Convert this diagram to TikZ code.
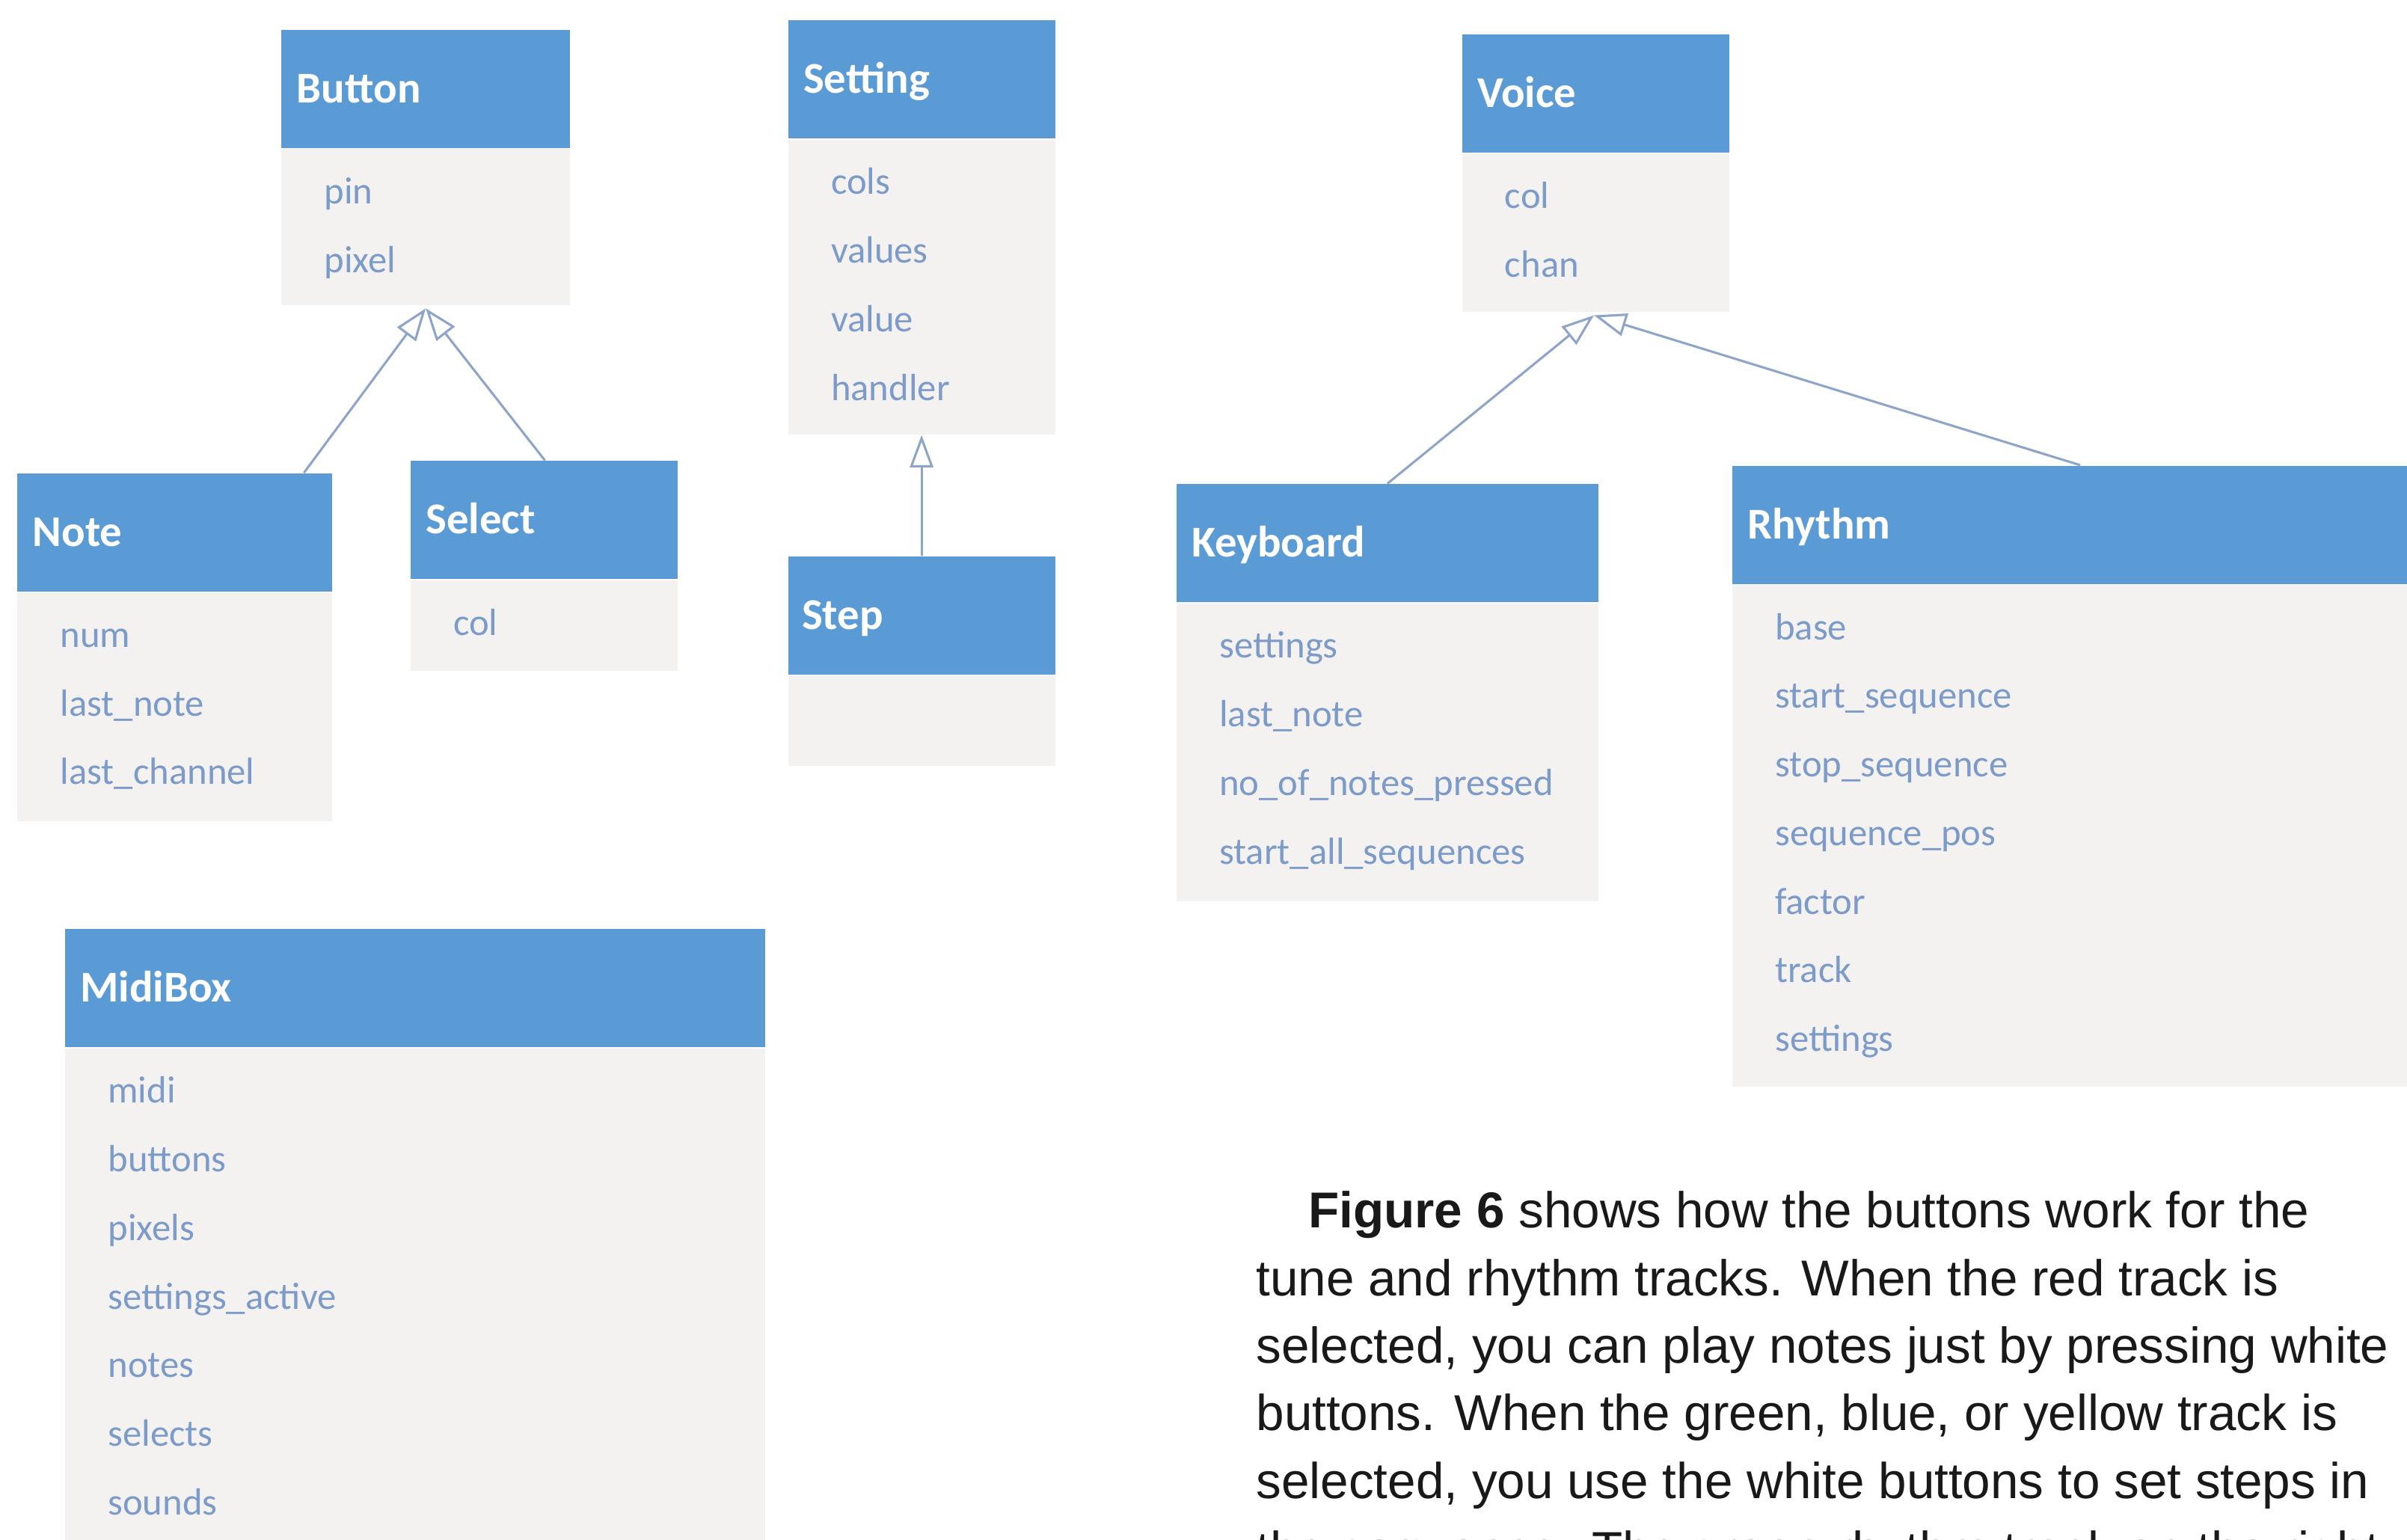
\documentclass[tikz,border=0pt]{standalone}
\usepackage{fontspec}
\newfontfamily\carlito{Carlito}
\newfontfamily\arialf{Liberation Sans}
\usetikzlibrary{arrows.meta,calc}
\definecolor{hdrblue}{HTML}{5B9BD5}
\definecolor{bodygray}{HTML}{F3F2F1}
\definecolor{attrblue}{HTML}{7D9BC9}
\definecolor{linecol}{HTML}{8EA4C8}
\tikzset{
  hdr/.style={fill=hdrblue, draw=none, inner sep=0pt, anchor=north west, minimum height=1.54cm},
  bodybox/.style={fill=bodygray, draw=none, inner sep=0pt, anchor=north west},
  ttl/.style={anchor=base west, inner sep=0pt, text=white, font=\carlito\bfseries\fontsize{16.3}{19}\selectfont},
  attr/.style={anchor=base west, inner sep=0pt, text=attrblue, font=\carlito\fontsize{14.06}{17}\selectfont},
  para/.style={anchor=base west, inner sep=0pt, text=black!90, font=\arialf\fontsize{18.7}{22}\selectfont},
  inh/.style={draw=linecol, line width=0.85pt, -{Triangle[open, length=12pt, width=8.6pt]}}
}
\newcommand\UmlClass[7]{%
  \node[hdr, minimum width=#4*0.02cm] (#1H) at (#2,#3) {};
  \node[ttl] (#1T) at ($(#1H.west)+(10,9)$) {#5};
  \node[bodybox, minimum width=#4*0.02cm, minimum height=#6*0.02cm] (#1B) at (#1H.south west) {};
  \foreach \t [count=\i] in {#7}
    \node[attr] (#1A\i) at ($(#1B.north west)+(28,{36+(\i-1)*44.7})$) {\t};
}
\begin{document}
\begin{tikzpicture}[x=0.02cm,y=-0.02cm]
\useasboundingbox (0,0) rectangle (1568,1003);
\clip (0,0) rectangle (1568,1003);
\fill[white] (0,0) rectangle (1568,1003);

\UmlClass{button}{183}{19}{188}{Button}{102}{pin,pixel}
\UmlClass{setting}{513}{13}{174}{Setting}{192}{cols,values,value,handler}
\UmlClass{voice}{952}{22}{174}{Voice}{103}{col,chan}
\UmlClass{note}{11}{308}{205}{Note}{149}{num,last\_note,last\_channel}
\UmlClass{select}{267}{300}{174}{Select}{59}{col}
\UmlClass{key}{766}{315}{275}{Keyboard}{194}{settings,last\_note,no\_of\_notes\_pressed,start\_all\_sequences}
\UmlClass{rhy}{1128}{303}{460}{Rhythm}{327}{base,start\_sequence,stop\_sequence,sequence\_pos,factor,track,settings}
\UmlClass{midi}{42}{605}{456}{MidiBox}{340}{midi,buttons,pixels,settings\_active,notes,selects,sounds}

% Step (no attributes)
\node[hdr, minimum width=174*0.02cm] (stepH) at (513,362) {};
\node[ttl] (stepT) at ($(stepH.west)+(9,9)$) {Step};
\node[bodybox, minimum width=174*0.02cm, minimum height=59*0.02cm] (stepB) at (stepH.south west) {};

% inheritance connectors
\coordinate (noteTop) at ($(noteH.north west)+(187,0)$);
\coordinate (selectTop) at ($(selectH.north west)+(88,0)$);
\coordinate (rhyTop) at ($(rhyH.north west)+(227,0)$);
\draw[inh] (noteTop) -- ($(buttonB.south)+(0,1.5)$);
\draw[inh] (selectTop) -- ($(buttonB.south)+(0,1.5)$);
\draw[inh] (stepH.north) -- (settingB.south);
\draw[inh] (keyH.north) -- ($(voiceB.south)+(-1,2)$);
\draw[inh] (rhyTop) -- ($(voiceB.south)+(-1,2)$);

% paragraph text
\node[para] (p1) at (852,800) {\bfseries Figure 6\mdseries{} shows how the buttons work for the};
\node[para] (p2) at (818,844) {tune and rhythm tracks. When the red track is};
\node[para] (p3) at (818,888) {selected, you can play notes just by pressing white};
\node[para] (p4) at (818,932) {buttons. When the green, blue, or yellow track is};
\node[para] (p5) at (818,976) {selected, you use the white buttons to set steps in};
\node[para] (p6) at (818,1021) {the sequence. The green rhythm track on the right};
\end{tikzpicture}
\end{document}
